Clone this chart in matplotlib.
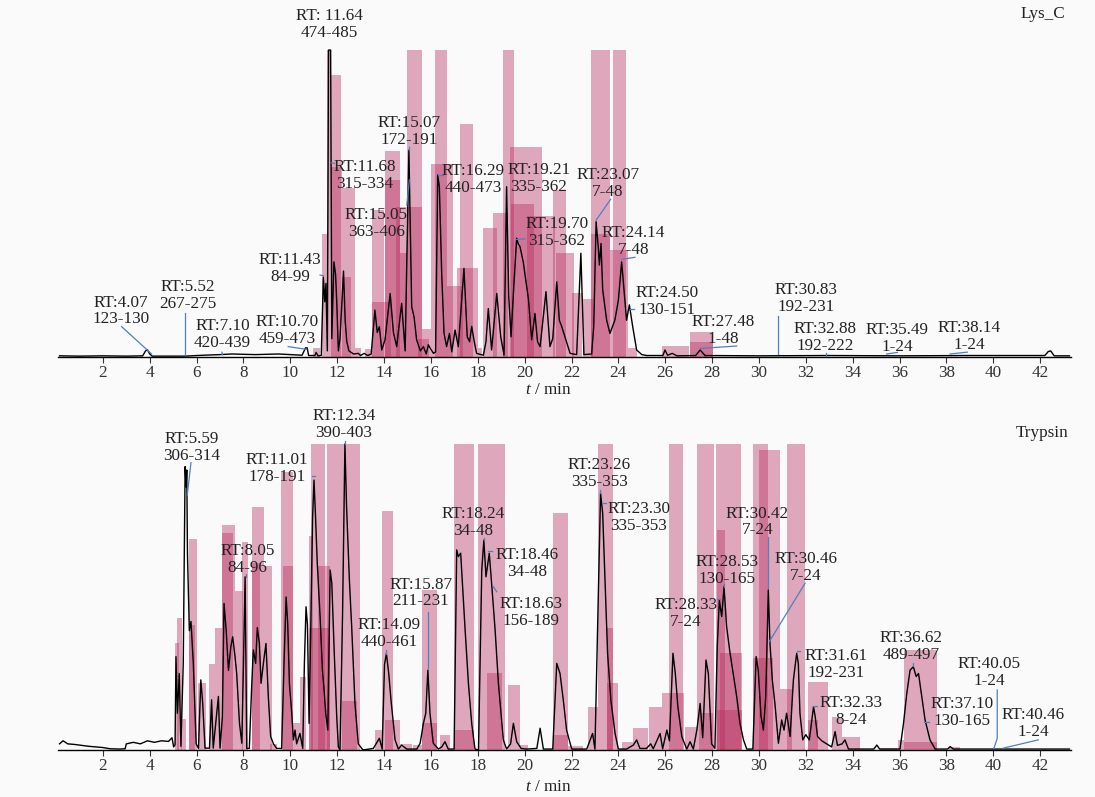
"""Lys_C / Trypsin chromatograms with peptide coverage bars."""

import matplotlib
matplotlib.use("Agg")
import matplotlib.pyplot as plt

plt.rcParams["font.family"] = ["Liberation Serif", "DejaVu Serif"]
plt.rcParams["mathtext.fontset"] = "custom"
plt.rcParams["mathtext.rm"] = "Liberation Serif"
plt.rcParams["mathtext.it"] = "Liberation Serif:italic"

# ---------------------------------------------------------------- data
# chromatogram vertices (time / min, relative intensity)
LYS_TRACE = [
    (0.15, 0.004), (1.0, 0.003), (2.0, 0.004), (3.0, 0.003), (3.7, 0.004),
    (3.82, 0.02), (3.9, 0.024), (4.0, 0.01), (4.1, 0.003), (5.5, 0.003),
    (6.3, 0.006), (7.0, 0.008), (7.5, 0.01), (8.5, 0.008), (9.5, 0.01),
    (10.5, 0.006), (10.65, 0.03), (10.72, 0.03), (10.78, 0.005), (11.05, 0.005),
    (11.1, 0.015), (11.18, 0.004), (11.32, 0.005), (11.41, 0.26), (11.47, 0.18),
    (11.52, 0.24), (11.58, 0.02), (11.63, 1.0), (11.72, 1.0), (11.77, 0.06),
    (11.86, 0.31), (11.93, 0.27), (11.98, 0.18), (12.05, 0.02), (12.12, 0.06),
    (12.27, 0.28), (12.34, 0.12), (12.41, 0.05), (12.5, 0.02), (12.7, 0.01),
    (12.9, 0.012), (13.0, 0.005), (13.15, 0.012), (13.3, 0.005), (13.45, 0.01),
    (13.61, 0.153), (13.71, 0.08), (13.8, 0.099), (13.9, 0.023), (14.04, 0.056),
    (14.26, 0.207), (14.4, 0.08), (14.54, 0.034), (14.75, 0.175), (14.9, 0.02),
    (15.06, 0.674), (15.18, 0.164), (15.28, 0.131), (15.39, 0.056), (15.55, 0.02),
    (15.68, 0.034), (15.8, 0.01), (15.89, 0.04), (15.96, 0.03), (16.11, 0.012),
    (16.2, 0.017), (16.29, 0.593), (16.36, 0.555), (16.46, 0.273), (16.56, 0.077),
    (16.67, 0.034), (16.79, 0.077), (16.89, 0.017), (17.03, 0.088), (17.17, 0.034),
    (17.41, 0.289), (17.55, 0.066), (17.65, 0.05), (17.74, 0.10), (17.85, 0.05),
    (17.95, 0.012), (18.24, 0.006), (18.35, 0.05), (18.45, 0.158), (18.59, 0.023),
    (18.81, 0.207), (18.98, 0.066), (19.12, 0.006), (19.23, 0.555), (19.32, 0.2),
    (19.42, 0.066), (19.52, 0.207), (19.66, 0.387), (19.72, 0.37), (19.80, 0.36),
    (19.94, 0.31), (20.05, 0.25), (20.16, 0.19), (20.30, 0.056), (20.44, 0.142),
    (20.55, 0.05), (20.66, 0.034), (20.91, 0.213), (21.08, 0.034), (21.2, 0.06),
    (21.37, 0.245), (21.48, 0.12), (21.58, 0.10), (21.72, 0.066), (21.94, 0.012),
    (22.22, 0.008), (22.4, 0.338), (22.53, 0.008), (22.86, 0.01), (22.95, 0.1),
    (23.05, 0.441), (23.15, 0.35), (23.19, 0.30), (23.26, 0.37), (23.33, 0.22),
    (23.5, 0.12), (23.64, 0.077), (23.85, 0.12), (24.0, 0.185), (24.14, 0.31),
    (24.24, 0.22), (24.35, 0.12), (24.47, 0.170), (24.61, 0.10), (24.78, 0.023),
    (25.0, 0.008), (25.21, 0.005), (25.9, 0.005), (25.99, 0.023), (26.1, 0.006),
    (26.3, 0.012), (26.5, 0.004), (27.3, 0.005), (27.49, 0.023), (27.7, 0.005),
    (30.0, 0.004), (33.0, 0.005), (36.0, 0.004), (39.0, 0.005), (42.2, 0.005),
    (42.35, 0.018), (42.45, 0.02), (42.6, 0.004), (43.25, 0.004),
]

TRY_TRACE = [
    (0.15, 0.02), (0.3, 0.03), (0.5, 0.02), (0.8, 0.018), (1.1, 0.015),
    (1.4, 0.012), (1.7, 0.01), (2.0, 0.008), (2.3, 0.004), (2.7, 0.003),
    (2.95, 0.004), (3.0, 0.02), (3.3, 0.025), (3.6, 0.02), (3.9, 0.03),
    (4.2, 0.025), (4.5, 0.03), (4.8, 0.028), (4.95, 0.04), (5.02, 0.01),
    (5.08, 0.017), (5.12, 0.305), (5.18, 0.12), (5.26, 0.25), (5.33, 0.012),
    (5.43, 0.283), (5.51, 0.926), (5.55, 0.86), (5.58, 0.915), (5.61, 0.64),
    (5.69, 0.39), (5.76, 0.42), (5.86, 0.283), (5.98, 0.02), (6.08, 0.005),
    (6.18, 0.229), (6.26, 0.153), (6.36, 0.006), (6.55, 0.006), (6.64, 0.164),
    (6.71, 0.006), (6.83, 0.098), (6.93, 0.175), (7.0, 0.006), (7.10, 0.109),
    (7.17, 0.479), (7.26, 0.394), (7.36, 0.26), (7.46, 0.337), (7.54, 0.37),
    (7.64, 0.305), (7.71, 0.25), (7.83, 0.087), (7.93, 0.022), (8.0, 0.283),
    (8.07, 0.566), (8.14, 0.005), (8.25, 0.005), (8.35, 0.207), (8.42, 0.327),
    (8.52, 0.283), (8.59, 0.40), (8.68, 0.348), (8.75, 0.218), (8.85, 0.283),
    (8.96, 0.348), (9.06, 0.175), (9.16, 0.044), (9.28, 0.02), (9.42, 0.005),
    (9.63, 0.005), (9.73, 0.283), (9.82, 0.50), (9.89, 0.41), (9.96, 0.218),
    (10.06, 0.12), (10.13, 0.033), (10.20, 0.065), (10.27, 0.02), (10.41, 0.054),
    (10.53, 0.005), (10.60, 0.283), (10.67, 0.468), (10.73, 0.41), (10.80, 0.087),
    (10.87, 0.39), (10.95, 0.762), (11.01, 0.882), (11.07, 0.773), (11.15, 0.61),
    (11.27, 0.436), (11.37, 0.26), (11.44, 0.196), (11.51, 0.12), (11.60, 0.065),
    (11.70, 0.588), (11.77, 0.545), (11.87, 0.327), (11.98, 0.109), (12.05, 0.01),
    (12.12, 0.0), (12.23, 0.447), (12.33, 1.0), (12.40, 0.795), (12.52, 0.556),
    (12.62, 0.40), (12.76, 0.15), (12.9, 0.02), (13.1, 0.0), (13.54, 0.005),
    (13.8, 0.038), (13.92, 0.003), (14.02, 0.28), (14.1, 0.315), (14.2, 0.25),
    (14.3, 0.16), (14.47, 0.033), (14.61, 0.003), (14.75, 0.016), (14.97, 0.003),
    (15.4, 0.003), (15.54, 0.022), (15.68, 0.087), (15.78, 0.12), (15.87, 0.261),
    (15.96, 0.12), (16.1, 0.022), (16.32, 0.003), (16.46, 0.01), (16.6, 0.027),
    (16.74, 0.003), (16.99, 0.003), (17.1, 0.654), (17.17, 0.632), (17.27, 0.643),
    (17.36, 0.523), (17.46, 0.392), (17.6, 0.218), (17.74, 0.087), (17.88, 0.003),
    (18.03, 0.0), (18.17, 0.588), (18.26, 0.686), (18.35, 0.566), (18.49, 0.643),
    (18.59, 0.545), (18.74, 0.392), (18.88, 0.218), (19.09, 0.033), (19.23, 0.003),
    (19.4, 0.02), (19.52, 0.087), (19.66, 0.027), (19.85, 0.005), (20.1, 0.003),
    (20.52, 0.005), (20.66, 0.071), (20.8, 0.003), (21.2, 0.003), (21.37, 0.283),
    (21.51, 0.25), (21.65, 0.163), (21.79, 0.065), (22.01, 0.003), (22.36, 0.003),
    (22.65, 0.003), (22.9, 0.054), (23.0, 0.003), (23.14, 0.5), (23.24, 0.839),
    (23.33, 0.774), (23.43, 0.556), (23.54, 0.316), (23.68, 0.163), (23.86, 0.054),
    (24.0, 0.003), (24.35, 0.003), (24.64, 0.016), (24.78, 0.033), (24.92, 0.005),
    (25.2, 0.005), (25.38, 0.02), (25.49, 0.004), (25.78, 0.054), (25.89, 0.004),
    (26.07, 0.065), (26.18, 0.03), (26.33, 0.316), (26.43, 0.25), (26.54, 0.141),
    (26.71, 0.043), (26.92, 0.003), (27.06, 0.027), (27.2, 0.003), (27.35, 0.065),
    (27.49, 0.152), (27.6, 0.04), (27.74, 0.294), (27.84, 0.25), (27.98, 0.02),
    (28.12, 0.005), (28.22, 0.338), (28.31, 0.49), (28.41, 0.436), (28.51, 0.534),
    (28.62, 0.403), (28.76, 0.32), (28.92, 0.24), (29.05, 0.175), (29.19, 0.087),
    (29.34, 0.033), (29.48, 0.003), (29.74, 0.003), (29.88, 0.305), (29.97, 0.26),
    (30.09, 0.109), (30.19, 0.065), (30.29, 0.175), (30.4, 0.523), (30.47, 0.348),
    (30.57, 0.229), (30.68, 0.153), (30.83, 0.022), (30.97, 0.098), (31.07, 0.065),
    (31.18, 0.12), (31.33, 0.044), (31.47, 0.229), (31.61, 0.316), (31.68, 0.283),
    (31.75, 0.12), (31.87, 0.033), (32.0, 0.05), (32.15, 0.033), (32.33, 0.142),
    (32.4, 0.109), (32.5, 0.044), (32.68, 0.03), (32.89, 0.02), (33.1, 0.01),
    (33.25, 0.06), (33.35, 0.015), (33.55, 0.02), (33.67, 0.033), (33.82, 0.003),
    (34.2, 0.003), (34.9, 0.003), (35.03, 0.016), (35.15, 0.003), (36.02, 0.003),
    (36.17, 0.087), (36.31, 0.185), (36.45, 0.261), (36.59, 0.272), (36.71, 0.24),
    (36.81, 0.25), (36.95, 0.175), (37.09, 0.098), (37.3, 0.033), (37.52, 0.003),
    (38.05, 0.003), (38.16, 0.011), (38.3, 0.003), (43.25, 0.003),
]

# coverage bars: start, end, relative height
LYS_BAR_START = [10.97, 11.35, 11.58, 11.75, 11.75, 12.2, 12.2, 12.75, 13.2, 13.47,
                 13.5, 14.04, 14.04, 14.68, 14.97, 14.5, 15.64, 15.45, 16.18, 16.0,
                 16.7, 17.24, 17.1, 18.0, 18.22, 18.66, 19.08, 19.38, 19.4, 20.1,
                 21.2, 21.35, 22.0, 22.5, 22.82, 22.82, 23.76, 23.64, 24.4, 25.85,
                 27.06, 27.06]
LYS_BAR_END = [11.27, 11.57, 11.75, 12.16, 12.2, 12.75, 12.6, 13.0, 13.5, 14.0,
               14.3, 14.68, 14.68, 14.97, 15.64, 15.6, 16.0, 15.9, 16.7, 16.95,
               17.35, 17.8, 18.0, 18.2, 18.8, 19.3, 19.55, 20.76, 20.4, 21.3,
               21.77, 22.1, 22.45, 22.9, 23.64, 23.64, 24.32, 24.4, 24.8, 27.0,
               28.04, 28.04]
LYS_BAR_H = [0.03, 0.40, 1.0, 0.92, 0.62, 0.55, 0.26, 0.03, 0.025, 0.48,
             0.18, 0.67, 0.576, 0.34, 1.0, 0.49, 0.09, 0.06, 1.0, 0.63,
             0.23, 0.76, 0.29, 0.03, 0.42, 0.47, 1.0, 0.685, 0.50, 0.46,
             0.544, 0.34, 0.21, 0.19, 1.0, 0.40, 1.0, 0.35, 0.03, 0.037,
             0.08, 0.05]

TRY_BAR_START = [5.08, 5.18, 5.33, 5.68, 5.68, 6.05, 6.55, 6.79, 7.07, 7.07,
                 7.64, 7.95, 8.37, 8.37, 8.88, 9.14, 9.62, 9.7, 10.13, 10.41,
                 10.87, 10.8, 11.2, 10.8, 11.55, 12.19, 13.62, 13.93, 14.05, 14.68,
                 15.25, 15.6, 15.6, 16.39, 16.99, 16.99, 18.03, 18.38, 19.31, 19.8,
                 21.23, 21.23, 21.87, 22.72, 23.14, 23.5, 23.5, 24.14, 24.64, 25.32,
                 25.85, 26.18, 26.85, 27.37, 27.45, 28.17, 28.19, 28.34, 28.2, 29.73,
                 30.02, 29.75, 30.9, 31.19, 32.11, 32.11, 33.1, 33.53, 35.17, 35.95,
                 36.17, 36.17, 38.13]
TRY_BAR_END = [5.26, 5.36, 5.55, 6.0, 5.95, 6.4, 6.79, 7.07, 7.64, 7.55,
               7.97, 8.18, 8.88, 8.72, 9.21, 9.42, 10.1, 10.1, 10.41, 10.67,
               11.48, 10.98, 11.7, 11.7, 12.97, 12.83, 13.97, 14.4, 14.68, 15.18,
               15.6, 16.25, 16.25, 16.82, 17.84, 17.84, 19.16, 19.02, 19.8, 20.15,
               21.87, 21.87, 22.5, 23.14, 23.79, 23.97, 23.79, 24.64, 25.28, 25.85,
               26.8, 26.75, 27.35, 28.08, 28.05, 29.25, 28.55, 29.27, 29.27, 30.4,
               30.9, 30.6, 31.4, 31.97, 32.96, 32.5, 33.53, 34.32, 35.88, 36.17,
               37.59, 37.59, 38.58]
TRY_BAR_H = [0.35, 0.43, 0.10, 0.69, 0.41, 0.22, 0.28, 0.40, 0.735, 0.71,
             0.52, 0.68, 0.795, 0.61, 0.60, 0.02, 0.91, 0.60, 0.087, 0.24,
             1.0, 0.70, 0.60, 0.40, 1.0, 0.16, 0.065, 0.78, 0.098, 0.02,
             0.016, 0.523, 0.087, 0.049, 1.0, 0.065, 1.0, 0.25, 0.212, 0.016,
             0.776, 0.05, 0.014, 0.14, 1.0, 0.22, 0.40, 0.027, 0.071, 0.141,
             0.185, 1.0, 0.076, 1.0, 0.12, 1.0, 0.72, 0.316, 0.13, 1.0,
             0.98, 0.30, 0.20, 1.0, 0.223, 0.098, 0.109, 0.044, 0.006, 0.033,
             0.327, 0.027, 0.011]

LYS_LABELS = ["RT:4.07\n123-130", "RT:5.52\n267-275", "RT:7.10\n420-439",
              "RT:10.70\n459-473", "RT:11.43\n84-99", "RT: 11.64\n474-485",
              "RT:11.68\n315-334", "RT:15.05\n363-406", "RT:15.07\n172-191",
              "RT:16.29\n440-473", "RT:19.21\n335-362", "RT:19.70\n315-362",
              "RT:23.07\n7-48", "RT:24.14\n7-48", "RT:24.50\n130-151",
              "RT:27.48\n1-48", "RT:30.83\n192-231", "RT:32.88\n192-222",
              "RT:35.49\n1-24", "RT:38.14\n1-24"]

TRY_LABELS = ["RT:5.59\n306-314", "RT:11.01\n178-191", "RT:12.34\n390-403",
              "RT:8.05\n84-96", "RT:14.09\n440-461", "RT:15.87\n211-231",
              "RT:18.24\n34-48", "RT:18.46\n34-48", "RT:18.63\n156-189",
              "RT:23.26\n335-353", "RT:23.30\n335-353", "RT:28.33\n7-24",
              "RT:28.53\n130-165", "RT:30.42\n7-24", "RT:30.46\n7-24",
              "RT:31.61\n192-231", "RT:32.33\n8-24", "RT:36.62\n489-497",
              "RT:37.10\n130-165", "RT:40.05\n1-24", "RT:40.46\n1-24"]

# ---------------------------------------------------------------- layout
# label centre (t, h) and leader polyline [(t, h), ...], same order as labels
LYS_LAYOUT = [
    ((2.77, 0.150), [(2.80, 0.099), (4.08, 0.01)]),
    ((5.61, 0.202), [(5.52, 0.143), (5.52, 0.007)]),
    ((7.11, 0.073), [(7.08, 0.016), (7.10, 0.008)]),
    ((9.86, 0.086), [(9.91, 0.034), (10.70, 0.025)]),
    ((9.99, 0.290), [(11.27, 0.267), (11.41, 0.265)]),
    ((11.65, 1.082), []),
    ((13.18, 0.590), [(11.74, 0.633), (11.88, 0.631)]),
    ((13.66, 0.435), [(14.97, 0.495), (15.08, 0.577)]),
    ((15.07, 0.735), [(15.07, 0.683), (15.07, 0.674)]),
    ((17.80, 0.577), [(16.32, 0.593), (16.50, 0.593)]),
    ((20.61, 0.583), []),
    ((21.38, 0.407), [(19.66, 0.383), (20.02, 0.385)]),
    ((23.56, 0.565), [(23.05, 0.446), (23.67, 0.514)]),
    ((24.63, 0.375), [(24.14, 0.318), (24.71, 0.325)]),
    ((26.08, 0.182), [(24.50, 0.156), (24.67, 0.156)]),
    ((28.47, 0.085), [(27.49, 0.028), (29.05, 0.036)]),
    ((32.01, 0.192), [(30.83, 0.134), (30.83, 0.01)]),
    ((32.82, 0.065), [(32.86, 0.014), (32.86, 0.005)]),
    ((35.89, 0.062), [(35.45, 0.01), (35.91, 0.015)]),
    ((38.97, 0.068), [(38.16, 0.01), (38.89, 0.016)]),
]

TRY_LAYOUT = [
    ((5.79, 0.988), [(5.76, 0.939), (5.60, 0.833)]),
    ((9.43, 0.919), [(10.91, 0.896), (11.05, 0.896)]),
    ((12.29, 1.064), [(12.33, 1.01), (12.33, 1.0)]),
    ((8.17, 0.623), [(8.10, 0.575), (8.10, 0.566)]),
    ((14.23, 0.382), [(14.08, 0.327), (14.08, 0.315)]),
    ((15.57, 0.513), [(15.86, 0.452), (15.86, 0.267)]),
    ((17.80, 0.742), [(18.27, 0.693), (18.27, 0.686)]),
    ((20.09, 0.609), [(18.45, 0.651), (18.60, 0.651)]),
    ((20.26, 0.449), [(18.66, 0.534), (18.81, 0.517)]),
    ((23.18, 0.903), [(23.22, 0.85), (23.22, 0.839)]),
    ((24.88, 0.761), [(23.29, 0.806), (23.47, 0.806)]),
    ((26.89, 0.445), [(28.22, 0.492), (28.34, 0.492)]),
    ((28.63, 0.588), [(28.52, 0.542), (28.52, 0.534)]),
    ((29.93, 0.745), [(30.40, 0.697), (30.40, 0.528)]),
    ((32.01, 0.595), [(31.97, 0.545), (30.44, 0.354)]),
    ((33.28, 0.279), [(31.64, 0.324), (31.75, 0.324)]),
    ((33.92, 0.126), [(32.32, 0.144), (32.47, 0.144)]),
    ((36.49, 0.337), [(36.56, 0.285), (36.56, 0.275)]),
    ((38.68, 0.121), [(37.05, 0.092), (37.26, 0.092)]),
    ((39.83, 0.253), [(40.17, 0.196), (40.17, 0.038), (40.03, 0.006)]),
    ((41.71, 0.086), [(41.92, 0.033), (40.43, 0.006)]),
]

BAR_COLOR = "#b82c5e"
LEADER_COLOR = "#4f81bd"
TEXT_COLOR = "#222222"
FONT_SIZE = 12.3
XLIM = (0.1, 43.3)
YLIM = (0, 1.12)


def draw_panel(ax, trace, bar_start, bar_end, bar_h, labels, layout, name, name_pos, xlabel_y):
    widths = [e - s for s, e in zip(bar_start, bar_end)]
    ax.bar(bar_start, bar_h, width=widths, align="edge", color=BAR_COLOR,
           alpha=0.4, linewidth=0, zorder=1)

    t = [p[0] for p in trace]
    y = [p[1] for p in trace]
    ax.plot(t, y, color="black", linewidth=1.0, zorder=3)

    for text, (pos, leader) in zip(labels, layout):
        ax.text(pos[0], pos[1], text, ha="center", va="center", fontsize=FONT_SIZE,
                color=TEXT_COLOR, linespacing=1.08, zorder=5)
        if leader:
            ax.plot([p[0] for p in leader], [p[1] for p in leader],
                    color=LEADER_COLOR, linewidth=0.9, zorder=4, clip_on=False)

    ax.text(name_pos[0], name_pos[1], name, ha="right", va="center",
            fontsize=FONT_SIZE, color=TEXT_COLOR)

    ax.set_xlim(*XLIM)
    ax.set_ylim(*YLIM)
    ax.set_xticks(range(2, 43, 2))
    ax.set_yticks([])
    for side in ("top", "right", "left"):
        ax.spines[side].set_visible(False)
    ax.spines["bottom"].set_linewidth(1.0)
    ax.tick_params(axis="x", direction="out", length=4, width=0.8,
                   labelsize=FONT_SIZE, colors="#333333", pad=2)
    ax.set_facecolor("none")
    ax.text(0.484, xlabel_y, r"$\mathit{t}$ / min", transform=ax.transAxes,
            ha="center", va="center", fontsize=FONT_SIZE, color=TEXT_COLOR)


fig = plt.figure(figsize=(10.95, 7.97), dpi=100, facecolor="#fafafa")
ax_top = fig.add_axes([0.0533, 0.552, 0.9244, 0.4314])
ax_bot = fig.add_axes([0.0533, 0.059, 0.9244, 0.430])

draw_panel(ax_top, LYS_TRACE, LYS_BAR_START, LYS_BAR_END, LYS_BAR_H,
           LYS_LABELS, LYS_LAYOUT, "Lys_C", (43.06, 1.117), -0.096)
draw_panel(ax_bot, TRY_TRACE, TRY_BAR_START, TRY_BAR_END, TRY_BAR_H,
           TRY_LABELS, TRY_LAYOUT, "Trypsin", (43.19, 1.037), -0.107)

fig.savefig("out.png", dpi=100, facecolor=fig.get_facecolor())
